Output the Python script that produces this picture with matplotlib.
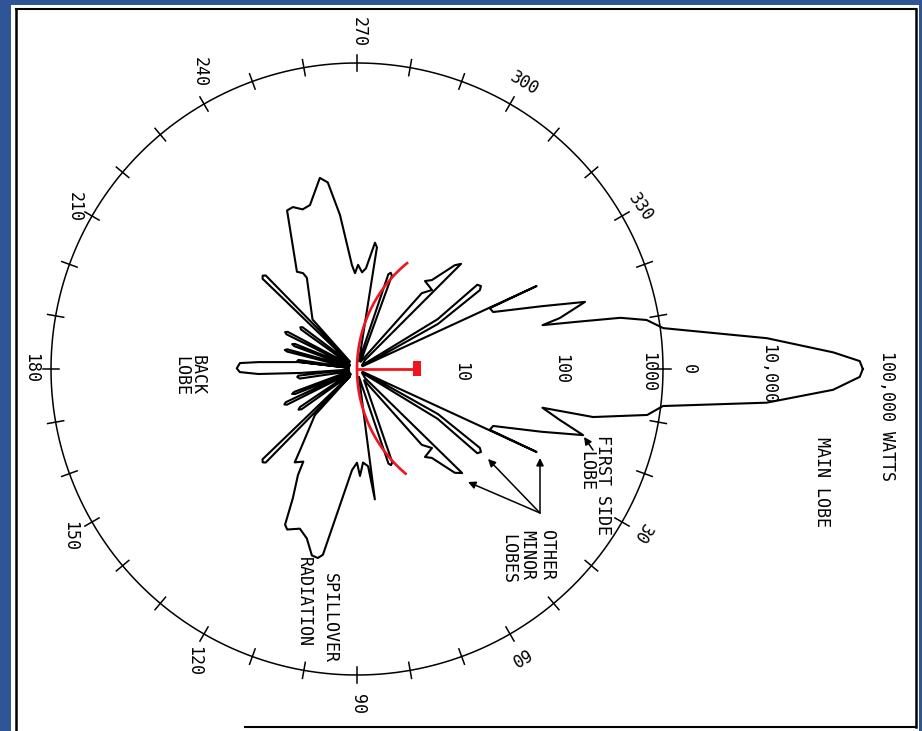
import numpy as np
import matplotlib
matplotlib.use("Agg")
import matplotlib.pyplot as plt
from matplotlib.patches import Rectangle
from matplotlib.ticker import NullLocator

# ---------------------------------------------------------------
# Radar antenna radiation pattern (bearing in degrees, clockwise
# from the main-lobe axis; radiated power in watts, log scale).
# Outline traced clockwise around the whole pattern.
# ---------------------------------------------------------------
pattern_deg = [
    0.0, 0.9, 2.5, 4.7, 6.9, 9.0, 11.5, 11.8, 14.1, 16.3,
    18.8, 22.7, 24.6, 24.8, 26.5,
    29.1, 32.7, 33.8, 35.0, 31.7, 37.0,
    48.4, 44.7, 46.7, 49.9, 52.3, 46.5, 49.5, 57.5,
    69.3, 70.5, 71.6, 76.0,
    82.2, 83.5, 86.3, 88.4, 90.0, 92.8, 100.4, 101.7, 103.6, 106.5,
    109.7, 113.5, 114.8, 116.4, 119.1, 120.1, 123.7, 125.1, 132.4, 133.5,
    134.3, 135.3, 136.3, 139.0,
    144.0, 145.2, 146.3, 149.0,
    153.0, 154.0, 155.0, 156.5,
    158.0, 159.0, 160.0, 163.0,
    170.5, 172.4, 173.5, 175.5,
    176.0, 177.1, 178.5, 180.3, 182.9, 184.0, 187.0, 188.0,
    186.8, 187.6, 188.8, 191.0,
    194.0, 194.8, 195.8, 198.5,
    200.0, 201.0, 202.0, 204.0,
    206.2, 207.2, 208.2, 211.0,
    215.2, 216.4, 217.5, 221.0,
    223.7, 224.7, 225.7, 226.5,
    228.1, 241.2, 240.6, 238.3, 246.2, 248.4, 251.2, 254.0, 259.0, 261.1,
    263.7, 267.2, 268.8, 270.6, 273.0, 275.1, 278.1, 279.3, 284.0,
    288.3, 289.3, 290.5, 297.0,
    302.5, 310.5, 313.5, 307.7, 310.1, 313.3, 314.7, 311.6,
    323.0, 328.3, 325.0, 326.2, 327.3, 330.9, 333.5,
    335.2, 335.4, 337.3, 341.2, 343.6, 345.9, 346.7, 347.9, 349.0,
    350.4, 352.4, 355.7, 358.0, 359.1, 360.0,
]
pattern_watts = [
    91000, 85000, 47000, 10700, 1050, 760, 230, 72, 112, 204,
    81, 28, 27, 87, 1.15,
    8.1, 27, 29, 27.5, 8.5, 1.15,
    1.32, 28.2, 25, 13.8, 12.3, 11.7, 9.5, 1.35,
    9.5, 10, 9.5, 1.2,
    19.5, 9.1, 8.3, 11.2, 8.3, 9.8, 71, 78, 76, 54,
    46, 52, 48, 26, 15.5, 11.2, 12.6, 9.3, 4.1, 1.26,
    19.1, 20, 19.1, 1.2,
    4.7, 5.0, 4.7, 1.2,
    5.9, 6.2, 5.9, 1.3,
    4.5, 4.8, 4.5, 1.2,
    3.7, 3.9, 3.8, 1.2,
    3.6, 9.3, 14.1, 15.1, 14.1, 9.3, 3.6, 1.2,
    3.7, 3.9, 3.8, 1.2,
    5.1, 5.4, 5.1, 1.2,
    4.5, 4.8, 4.5, 1.2,
    5.9, 6.2, 5.9, 1.2,
    4.7, 4.9, 4.7, 1.26,
    19.1, 20, 19.1, 1.26,
    4.5, 10.5, 12, 13.2, 50, 51, 45, 47, 81, 71,
    33, 10.5, 8.7, 10.5, 8.9, 9.8, 17.8, 16.2, 1.2,
    9.5, 10, 9.5, 1.2,
    1.35, 9.5, 11.7, 12.3, 13.8, 25, 28.2, 1.32,
    1.15, 8.5, 27.5, 29, 27, 8.1, 1.15,
    87, 27, 28, 81, 214, 112, 74, 162, 427,
    759, 1070, 10700, 47000, 85000, 91000,
]

# Reference ring and bearing scale
ring_watts = 1000
tick_step_deg = 10
bearing_labels = ["270", "240", "210", "180", "150", "120", "90", "60", "30", "330", "300"]
bearing_label_deg = [270.3, 242.1, 209.9, 180.2, 149.8, 119.1, 89.8, 60.6, 30.0, 330.3, 300.4]
bearing_label_dec = [3.30, 3.30, 3.19, 3.20, 3.26, 3.28, 3.28, 3.23, 3.22, 3.20, 3.25]
bearing_label_rot = [-90, -90, -90, -90, -90, -90, -90, -150, -122, -55, -31]

# Power scale labels along the main-lobe axis
power_labels = ["10", "100", "1000", "0", "10,000", "100,000 WATTS"]
power_label_deg = [1.6, 0.0, 0.6, 0.0, 0.7, 5.1]
power_label_dec = [1.02, 2.0, 2.85, 3.25, 4.03, 5.22]

W, H = 922, 731
BLUE = "#2F5597"
RED = "#F0141E"
FONT = "DejaVu Sans Mono"
FS = 12

fig = plt.figure(figsize=(W / 100, H / 100), dpi=100, facecolor=BLUE)

# page background and frame
bg = fig.add_axes([0, 0, 1, 1], label="page", zorder=0)
bg.set_xlim(0, W)
bg.set_ylim(H, 0)
bg.axis("off")
bg.add_patch(Rectangle((11, 5), 908, 726, facecolor="white", edgecolor="none"))
bg.plot([16, 16], [9, 731], color="black", lw=1.8)
bg.plot([16, 916], [9, 9], color="black", lw=1.5)
bg.plot([916, 916], [9, 727], color="black", lw=1.8)
bg.plot([245, 916], [727, 727], color="black", lw=1.5)

# polar axes, log radial scale, centre of the antenna at (cx, cy)
cx, cy = 357, 369
px_per_decade = 102
rmax_dec = 5.3
R = px_per_decade * rmax_dec
ax = fig.add_axes([(cx - R) / W, (H - cy - R) / H, 2 * R / W, 2 * R / H],
                  projection="polar", zorder=1)
ax.set_theta_zero_location("E")
ax.set_theta_direction(-1)
ax.set_rscale("log")
ax.patch.set_visible(False)
ax.grid(False)
ax.spines["polar"].set_visible(False)

th = np.deg2rad(pattern_deg)
ax.plot(th, pattern_watts, color="black", lw=1.5, solid_joinstyle="round")

ring_t = np.linspace(0, 2 * np.pi, 721)
ax.plot(ring_t, np.full_like(ring_t, ring_watts), color="black", lw=1.1)
tick_half = 10 ** 0.08
for a in range(0, 360, tick_step_deg):
    ax.plot([np.deg2rad(a)] * 2, [ring_watts / tick_half, ring_watts * tick_half],
            color="black", lw=1.1)

for s, d, dec, rot in zip(bearing_labels, bearing_label_deg, bearing_label_dec, bearing_label_rot):
    ax.text(np.deg2rad(d), 10 ** dec, s, rotation=rot, ha="center", va="center",
            family=FONT, fontsize=FS)
for s, d, dec in zip(power_labels, power_label_deg, power_label_dec):
    ax.text(np.deg2rad(d), 10 ** dec, s, rotation=-90, ha="center", va="center",
            family=FONT, fontsize=FS)

ax.set_xticks([])
ax.set_yticks([])
ax.xaxis.set_minor_locator(NullLocator())
ax.yaxis.set_minor_locator(NullLocator())
ax.set_rlim(1, 10 ** rmax_dec)

# reflector, feed and annotations drawn on top
top = fig.add_axes([0, 0, 1, 1], label="notes", zorder=3)
top.set_xlim(0, W)
top.set_ylim(H, 0)
top.axis("off")
top.patch.set_visible(False)

arc_t = np.deg2rad(np.linspace(130.2, 230.6, 120))
top.plot(494 + 137 * np.cos(arc_t), 369 + 137 * np.sin(arc_t), color=RED, lw=1.9)
top.plot([cx, 415], [cy, cy], color=RED, lw=2.0)
top.add_patch(Rectangle((413, 361), 8, 15, facecolor=RED, edgecolor="none"))

notes = [
    ("BACK", 198, 375), ("LOBE", 181, 376),
    ("SPILLOVER", 330, 618), ("RADIATION", 304, 602),
    ("OTHER", 547, 555), ("MINOR", 527, 555), ("LOBES", 508, 559),
    ("FIRST SIDE", 603, 485), ("LOBE", 586, 471),
    ("MAIN LOBE", 822, 482),
]
for s, x, y in notes:
    top.text(x, y, s, rotation=-90, ha="center", va="center", family=FONT, fontsize=FS)

arrow_kw = dict(arrowstyle="-|>", color="black", lw=1.1, mutation_scale=11,
                shrinkA=0, shrinkB=0)
top.annotate("", xy=(584, 437), xytext=(593, 450), arrowprops=arrow_kw)
for tx, ty in [(540, 458), (488, 459), (468, 482)]:
    top.annotate("", xy=(tx, ty), xytext=(540, 513), arrowprops=arrow_kw)

fig.savefig("out.png", dpi=100, facecolor=BLUE)
